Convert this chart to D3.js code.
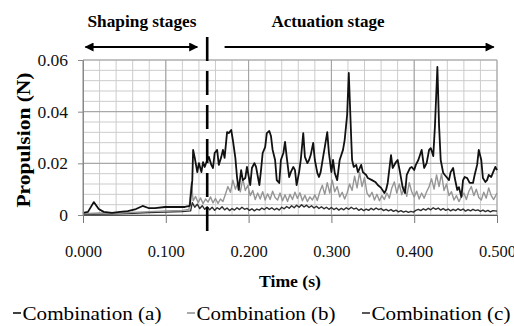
<!DOCTYPE html>
<html>
<head>
<meta charset="utf-8">
<script src="https://cdn.jsdelivr.net/npm/d3@7"></script>
<style>
  body { margin: 0; background: #fff; }
  svg text { font-family: "Liberation Serif", "Times New Roman", Times, "Nimbus Roman", "DejaVu Serif", serif !important; }
</style>
</head>
<body>
<div id="chart"></div>
<script>
// tick labels
var xTicks = [0, 0.1, 0.2, 0.3, 0.4, 0.5];
var yTicks = [0, 0.02, 0.04, 0.06];
var seriesNames = ["Combination (a)", "Combination (b)", "Combination (c)"];

// stage boundary (s)
var stageBoundary = 0.15;

// Combination (a): [time (s), propulsion (N)]
var combA = [
  [0.000,0.0008],[0.006,0.0012],[0.013,0.0050],[0.019,0.0023],[0.025,0.0012],[0.035,0.0008],[0.045,0.0012],
  [0.054,0.0015],[0.064,0.0023],[0.072,0.0035],[0.079,0.0027],[0.087,0.0027],[0.099,0.0031],[0.111,0.0031],
  [0.123,0.0031],[0.129,0.0035],[0.132,0.0135],[0.133,0.0252],[0.135,0.0221],[0.138,0.0166],[0.140,0.0201],
  [0.143,0.0166],[0.145,0.0205],[0.147,0.0186],[0.150,0.0213],[0.152,0.0225],[0.155,0.0194],[0.157,0.0182],
  [0.159,0.0240],[0.162,0.0252],[0.164,0.0194],[0.167,0.0225],[0.169,0.0252],[0.171,0.0221],[0.174,0.0321],
  [0.176,0.0317],[0.179,0.0329],[0.181,0.0290],[0.184,0.0221],[0.186,0.0147],[0.188,0.0097],[0.191,0.0174],
  [0.193,0.0135],[0.196,0.0143],[0.198,0.0186],[0.202,0.0116],[0.204,0.0182],[0.207,0.0201],[0.209,0.0186],
  [0.213,0.0116],[0.215,0.0174],[0.217,0.0240],[0.220,0.0263],[0.222,0.0317],[0.225,0.0325],[0.227,0.0306],
  [0.229,0.0252],[0.232,0.0213],[0.234,0.0135],[0.237,0.0124],[0.239,0.0213],[0.242,0.0240],[0.244,0.0283],
  [0.246,0.0225],[0.249,0.0147],[0.251,0.0166],[0.254,0.0186],[0.256,0.0174],[0.258,0.0116],[0.261,0.0166],
  [0.263,0.0213],[0.266,0.0317],[0.268,0.0225],[0.271,0.0201],[0.273,0.0213],[0.275,0.0232],[0.278,0.0279],
  [0.280,0.0213],[0.283,0.0163],[0.285,0.0147],[0.287,0.0166],[0.290,0.0225],[0.292,0.0263],[0.295,0.0321],
  [0.297,0.0240],[0.300,0.0166],[0.302,0.0213],[0.304,0.0163],[0.307,0.0135],[0.310,0.0213],[0.314,0.0252],
  [0.316,0.0290],[0.319,0.0387],[0.321,0.0550],[0.324,0.0290],[0.325,0.0213],[0.327,0.0186],[0.330,0.0194],
  [0.332,0.0166],[0.336,0.0194],[0.338,0.0166],[0.342,0.0155],[0.344,0.0143],[0.349,0.0135],[0.353,0.0128],
  [0.356,0.0116],[0.360,0.0105],[0.364,0.0085],[0.366,0.0097],[0.368,0.0124],[0.372,0.0232],[0.374,0.0182],
  [0.378,0.0205],[0.380,0.0213],[0.383,0.0163],[0.386,0.0108],[0.389,0.0085],[0.391,0.0155],[0.395,0.0182],
  [0.397,0.0186],[0.400,0.0174],[0.402,0.0194],[0.405,0.0213],[0.407,0.0232],[0.409,0.0252],[0.412,0.0182],
  [0.415,0.0201],[0.418,0.0252],[0.420,0.0259],[0.423,0.0228],[0.425,0.0341],[0.428,0.0573],[0.430,0.0348],
  [0.432,0.0213],[0.435,0.0163],[0.437,0.0155],[0.440,0.0143],[0.442,0.0135],[0.444,0.0166],[0.447,0.0182],
  [0.449,0.0143],[0.452,0.0097],[0.454,0.0108],[0.457,0.0070],[0.459,0.0135],[0.461,0.0147],[0.464,0.0143],
  [0.467,0.0124],[0.471,0.0124],[0.473,0.0155],[0.476,0.0194],[0.478,0.0252],[0.481,0.0213],[0.483,0.0143],
  [0.486,0.0128],[0.488,0.0135],[0.490,0.0155],[0.493,0.0147],[0.495,0.0163],[0.498,0.0186],[0.500,0.0174]
];

// Combination (b)
var combB = [
  [0.000,0.0005],[0.020,0.0008],[0.040,0.0006],[0.060,0.0010],[0.080,0.0013],[0.100,0.0016],[0.120,0.0018],
  [0.128,0.0022],[0.130,0.0095],[0.131,0.0125],[0.133,0.0055],[0.136,0.0072],[0.139,0.0048],[0.142,0.0066],
  [0.145,0.0044],[0.148,0.0062],[0.151,0.0050],[0.154,0.0070],[0.157,0.0047],[0.160,0.0064],[0.163,0.0045],
  [0.166,0.0062],[0.169,0.0052],[0.172,0.0080],[0.175,0.0110],[0.178,0.0088],[0.181,0.0135],[0.184,0.0100],
  [0.187,0.0125],[0.190,0.0090],[0.193,0.0140],[0.196,0.0095],[0.199,0.0115],[0.202,0.0075],[0.205,0.0095],
  [0.208,0.0060],[0.211,0.0085],[0.214,0.0062],[0.217,0.0090],[0.220,0.0058],[0.223,0.0082],[0.226,0.0060],
  [0.229,0.0092],[0.232,0.0068],[0.235,0.0058],[0.238,0.0085],[0.241,0.0055],[0.244,0.0078],[0.247,0.0052],
  [0.250,0.0080],[0.253,0.0060],[0.256,0.0088],[0.259,0.0064],[0.262,0.0086],[0.265,0.0055],[0.268,0.0076],
  [0.271,0.0052],[0.274,0.0070],[0.277,0.0058],[0.280,0.0078],[0.283,0.0056],[0.286,0.0090],[0.289,0.0115],
  [0.292,0.0080],[0.295,0.0125],[0.298,0.0085],[0.301,0.0135],[0.304,0.0090],[0.307,0.0110],[0.310,0.0070],
  [0.313,0.0088],[0.316,0.0062],[0.319,0.0085],[0.322,0.0120],[0.325,0.0095],[0.328,0.0150],[0.331,0.0105],
  [0.334,0.0165],[0.337,0.0110],[0.340,0.0145],[0.343,0.0085],[0.346,0.0070],[0.349,0.0088],[0.352,0.0058],
  [0.355,0.0080],[0.358,0.0055],[0.361,0.0075],[0.364,0.0060],[0.367,0.0085],[0.370,0.0065],[0.373,0.0105],
  [0.376,0.0128],[0.379,0.0085],[0.382,0.0120],[0.385,0.0078],[0.388,0.0110],[0.391,0.0072],[0.394,0.0125],
  [0.397,0.0090],[0.400,0.0070],[0.403,0.0092],[0.406,0.0062],[0.409,0.0085],[0.412,0.0065],[0.415,0.0090],
  [0.418,0.0110],[0.421,0.0140],[0.424,0.0100],[0.427,0.0155],[0.430,0.0110],[0.433,0.0160],[0.436,0.0095],
  [0.439,0.0120],[0.442,0.0075],[0.445,0.0090],[0.448,0.0058],[0.451,0.0075],[0.454,0.0052],[0.457,0.0070],
  [0.460,0.0085],[0.463,0.0060],[0.466,0.0092],[0.469,0.0110],[0.472,0.0075],[0.475,0.0100],[0.478,0.0068],
  [0.481,0.0058],[0.484,0.0088],[0.487,0.0065],[0.490,0.0105],[0.493,0.0075],[0.496,0.0060],[0.500,0.0085]
];

// Combination (c)
var combC = [
  [0.000,0.0003],[0.020,0.0004],[0.040,0.0005],[0.060,0.0007],[0.080,0.0009],[0.100,0.0011],[0.120,0.0013],
  [0.130,0.0016],[0.132,0.0048],[0.135,0.0030],[0.138,0.0042],[0.141,0.0025],[0.144,0.0036],[0.147,0.0022],
  [0.150,0.0032],[0.153,0.0020],[0.156,0.0030],[0.159,0.0018],[0.162,0.0028],[0.165,0.0022],[0.168,0.0032],
  [0.171,0.0020],[0.174,0.0027],[0.177,0.0017],[0.180,0.0025],[0.183,0.0019],[0.186,0.0028],[0.189,0.0021],
  [0.192,0.0030],[0.195,0.0022],[0.198,0.0026],[0.201,0.0018],[0.204,0.0024],[0.207,0.0016],[0.210,0.0023],
  [0.213,0.0019],[0.216,0.0027],[0.219,0.0021],[0.222,0.0029],[0.225,0.0022],[0.228,0.0028],[0.231,0.0020],
  [0.234,0.0026],[0.237,0.0019],[0.240,0.0030],[0.243,0.0024],[0.246,0.0033],[0.249,0.0026],[0.252,0.0036],
  [0.255,0.0028],[0.258,0.0038],[0.261,0.0030],[0.264,0.0040],[0.267,0.0031],[0.270,0.0038],[0.273,0.0029],
  [0.276,0.0036],[0.279,0.0027],[0.282,0.0034],[0.285,0.0025],[0.288,0.0032],[0.291,0.0024],[0.294,0.0030],
  [0.297,0.0022],[0.300,0.0029],[0.303,0.0021],[0.306,0.0027],[0.309,0.0019],[0.312,0.0026],[0.315,0.0020],
  [0.318,0.0028],[0.321,0.0022],[0.324,0.0030],[0.327,0.0023],[0.330,0.0027],[0.333,0.0018],[0.336,0.0024],
  [0.339,0.0017],[0.342,0.0023],[0.345,0.0018],[0.348,0.0026],[0.351,0.0020],[0.354,0.0027],[0.357,0.0021],
  [0.360,0.0025],[0.363,0.0017],[0.366,0.0022],[0.369,0.0016],[0.372,0.0021],[0.375,0.0014],[0.378,0.0019],
  [0.381,0.0012],[0.384,0.0017],[0.387,0.0011],[0.390,0.0015],[0.393,0.0010],[0.396,0.0014],[0.399,0.0011],
  [0.402,0.0018],[0.405,0.0022],[0.408,0.0017],[0.411,0.0024],[0.414,0.0019],[0.417,0.0026],[0.420,0.0020],
  [0.423,0.0028],[0.426,0.0022],[0.429,0.0027],[0.432,0.0019],[0.435,0.0025],[0.438,0.0018],[0.441,0.0023],
  [0.444,0.0016],[0.447,0.0022],[0.450,0.0017],[0.453,0.0024],[0.456,0.0018],[0.459,0.0023],[0.462,0.0015],
  [0.465,0.0021],[0.468,0.0016],[0.471,0.0022],[0.474,0.0017],[0.477,0.0020],[0.480,0.0014],[0.483,0.0019],
  [0.486,0.0013],[0.489,0.0018],[0.492,0.0012],[0.495,0.0017],[0.500,0.0015]
];

var W = 514, H = 326;
var margin = {top: 60, right: 17, bottom: 111, left: 83};
var width = W - margin.left - margin.right;
var height = H - margin.top - margin.bottom;

var svg = d3.select("#chart").append("svg")
    .attr("width", W)
    .attr("height", H)
    .style("display", "block");

var g = svg.append("g")
    .attr("transform", "translate(" + margin.left + "," + margin.top + ")");

var x = d3.scaleLinear().domain([0, 0.5]).range([0, width]);
var y = d3.scaleLinear().domain([0, 0.06]).range([height, 0]);

// grid: minor then major
var xMinor = d3.range(0, 0.5001, 0.02);
var yMinor = d3.range(0, 0.0601, 0.004);

g.selectAll(".vminor").data(xMinor).enter().append("line")
    .attr("x1", d => x(d)).attr("x2", d => x(d))
    .attr("y1", 0).attr("y2", height)
    .attr("stroke", "#cccccc").attr("stroke-width", 1);
g.selectAll(".hminor").data(yMinor).enter().append("line")
    .attr("x1", 0).attr("x2", width)
    .attr("y1", d => y(d)).attr("y2", d => y(d))
    .attr("stroke", "#cccccc").attr("stroke-width", 1);
g.selectAll(".vmajor").data(xTicks).enter().append("line")
    .attr("x1", d => x(d)).attr("x2", d => x(d))
    .attr("y1", 0).attr("y2", height)
    .attr("stroke", "#a0a0a0").attr("stroke-width", 1);
g.selectAll(".hmajor").data(yTicks).enter().append("line")
    .attr("x1", 0).attr("x2", width)
    .attr("y1", d => y(d)).attr("y2", d => y(d))
    .attr("stroke", "#a0a0a0").attr("stroke-width", 1);

// lines
var line = d3.line()
    .x(d => x(d[0]))
    .y(d => y(d[1]));

var series = [
  {data: combC, color: "#2e2e2e", w: 1.4},
  {data: combB, color: "#959595", w: 1.4},
  {data: combA, color: "#111111", w: 1.8}
];
series.forEach(function(s) {
  g.append("path")
      .attr("d", line(s.data))
      .attr("fill", "none")
      .attr("stroke", s.color)
      .attr("stroke-width", s.w)
      .attr("stroke-linejoin", "round");
});

// axes
var xAxis = d3.axisBottom(x).tickValues(xTicks).tickFormat(d3.format(".3f"))
    .tickSize(8).tickPadding(22);
var yAxis = d3.axisLeft(y).tickValues(yTicks)
    .tickFormat(d => d === 0 ? "0" : d3.format(".2f")(d))
    .tickSize(5).tickPadding(10);

var gx = g.append("g").attr("transform", "translate(0," + height + ")").call(xAxis);
gx.attr("font-family", null);
gx.select(".domain").attr("stroke", "#555");
gx.selectAll(".tick line").attr("stroke", "#777");
gx.selectAll("text").attr("font-size", 16.5).attr("fill", "#111");

var gy = g.append("g").call(yAxis);
gy.attr("font-family", null);
gy.select(".domain").attr("stroke", "#888");
gy.selectAll(".tick line").attr("stroke", "#888");
gy.selectAll("text").attr("font-size", 17.5).attr("fill", "#111");

// dashed stage boundary
g.append("line")
    .attr("x1", x(stageBoundary)).attr("x2", x(stageBoundary))
    .attr("y1", -23).attr("y2", height + 18)
    .attr("stroke", "#000").attr("stroke-width", 2.6)
    .attr("stroke-dasharray", "24,10");

// stage arrows
var defs = svg.append("defs");
defs.append("marker").attr("id", "head")
    .attr("viewBox", "0 0 10 10").attr("refX", 9).attr("refY", 5)
    .attr("markerWidth", 5).attr("markerHeight", 4.5).attr("markerUnits", "strokeWidth")
    .attr("orient", "auto-start-reverse")
  .append("path").attr("d", "M0,0 L10,5 L0,10 z").attr("fill", "#000");

var arrowY = -13;
g.append("line")
    .attr("x1", x(0.003)).attr("x2", x(0.138))
    .attr("y1", arrowY).attr("y2", arrowY)
    .attr("stroke", "#000").attr("stroke-width", 2)
    .attr("marker-start", "url(#head)").attr("marker-end", "url(#head)");
g.append("line")
    .attr("x1", x(0.171)).attr("x2", x(0.496))
    .attr("y1", arrowY).attr("y2", arrowY)
    .attr("stroke", "#000").attr("stroke-width", 2)
    .attr("marker-end", "url(#head)");

// stage titles
svg.append("text").attr("x", 142).attr("y", 27)
    .attr("text-anchor", "middle").attr("font-weight", "bold").attr("font-size", 17)
    .attr("textLength", 109).attr("lengthAdjust", "spacingAndGlyphs")
    .text("Shaping stages");
svg.append("text").attr("x", 328).attr("y", 27)
    .attr("text-anchor", "middle").attr("font-weight", "bold").attr("font-size", 17)
    .attr("textLength", 113).attr("lengthAdjust", "spacingAndGlyphs")
    .text("Actuation stage");

// axis titles
svg.append("text")
    .attr("x", margin.left + width / 2).attr("y", 287)
    .attr("text-anchor", "middle").attr("font-weight", "bold").attr("font-size", 17.5)
    .attr("textLength", 62).attr("lengthAdjust", "spacingAndGlyphs")
    .text("Time (s)");
svg.append("text")
    .attr("transform", "translate(30,140) rotate(-90)")
    .attr("text-anchor", "middle").attr("font-weight", "bold").attr("font-size", 19)
    .attr("textLength", 135).attr("lengthAdjust", "spacingAndGlyphs")
    .text("Propulsion (N)");

// legend
var legendX = [13, 187, 362];
var legendColors = ["#111111", "#959595", "#2e2e2e"];
var leg = svg.selectAll(".legend").data(seriesNames).enter().append("g")
    .attr("transform", (d, i) => "translate(" + legendX[i] + ",320)");
leg.append("line")
    .attr("x1", 0).attr("x2", 8).attr("y1", -7).attr("y2", -7)
    .attr("stroke", (d, i) => legendColors[i]).attr("stroke-width", 1.6);
leg.append("text")
    .attr("x", 9.5).attr("y", 0)
    .attr("font-size", 19.5)
    .attr("textLength", 139).attr("lengthAdjust", "spacingAndGlyphs")
    .text(d => d);
</script>
</body>
</html>
